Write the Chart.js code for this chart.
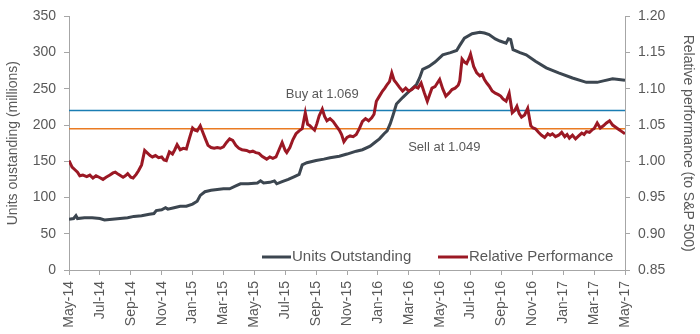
<!DOCTYPE html>
<html>
<head>
<meta charset="utf-8">
<script src="https://cdn.jsdelivr.net/npm/chart.js@4/dist/chart.umd.min.js"></script>
<style>
  html, body { margin: 0; padding: 0; background: #fff; }
</style>
</head>
<body>
<canvas id="myChart" width="700" height="334"></canvas>
<script>
// x values are months since May-14
const monthLabels = ["May-14", "Jul-14", "Sep-14", "Nov-14", "Jan-15", "Mar-15", "May-15", "Jul-15", "Sep-15", "Nov-15",
  "Jan-16", "Mar-16", "May-16", "Jul-16", "Sep-16", "Nov-16", "Jan-17", "Mar-17", "May-17"];

const unitsX = [0, 0.3, 0.45, 0.55, 1, 1.5, 2, 2.3, 2.8, 3.3, 3.8, 4.2, 4.7, 5.2, 5.5, 5.65, 6, 6.25, 6.4, 6.8, 7.2, 7.6,
  8, 8.3, 8.5, 8.8, 9.2, 9.6, 10, 10.4, 10.8, 11.1, 11.6, 12.2, 12.4, 12.6, 13, 13.3, 13.45, 13.8, 14.2, 14.6, 14.9,
  15.1, 15.4, 16, 16.5, 16.9, 17.5, 18, 18.3, 18.6, 19, 19.5, 19.8, 20.1, 20.4, 20.6, 20.8, 21, 21.2, 21.6, 21.9,
  22.2, 22.5, 22.7, 22.9, 23.3, 23.7, 24.2, 24.7, 25.1, 25.3, 25.6, 26.1, 26.6, 26.9, 27.2, 27.6, 27.9, 28.3, 28.45,
  28.6, 28.75, 29.2, 29.6, 30.2, 30.9, 31.7, 32.6, 33.5, 34.2, 34.6, 35.2, 35.6, 36];
const unitsOutstanding = [70, 71, 75, 71, 72, 72, 71, 69, 70, 71, 72, 74, 75, 77, 78, 82, 83, 86, 84, 86, 88, 88,
  91, 95, 103, 108, 110, 111, 112, 112, 116, 119, 119, 120, 123, 120, 121, 123, 119, 122, 125, 129, 132,
  145, 148, 151, 153, 155, 157, 160, 162, 164, 166, 171, 176, 181, 188, 192, 202, 215, 229, 238, 244,
  250, 256, 265, 277, 281, 287, 297, 300, 303, 310, 320, 326, 328, 327, 325, 319, 316, 313, 319,
  318, 304, 300, 297, 288, 279, 272, 265, 259, 259, 261, 264, 263, 262];

const perfX = [0, 0.2, 0.4, 0.55, 0.7, 0.9, 1.15, 1.35, 1.55, 1.75, 1.95, 2.2, 2.4, 2.65, 2.85, 3, 3.2, 3.5, 3.65, 3.8,
  4, 4.15, 4.35, 4.5, 4.7, 4.9, 5.1, 5.25, 5.4, 5.6, 5.8, 6, 6.15, 6.3, 6.5, 6.7, 6.85, 7, 7.2, 7.4, 7.6, 7.8,
  8, 8.15, 8.3, 8.5, 8.7, 8.85, 9, 9.2, 9.4, 9.6, 9.8, 10, 10.2, 10.4, 10.6, 10.8, 11, 11.2, 11.5, 11.7, 11.9,
  12.1, 12.3, 12.5, 12.8, 13, 13.2, 13.4, 13.6, 13.8, 14, 14.1, 14.3, 14.5, 14.7, 14.9, 15.1, 15.3, 15.45, 15.6,
  15.75, 15.9, 16.05, 16.2, 16.4, 16.55, 16.7, 16.9, 17.1, 17.3, 17.5, 17.65, 17.8, 18, 18.2, 18.4, 18.6, 18.8,
  19, 19.2, 19.4, 19.6, 19.75, 19.9, 20.1, 20.3, 20.45, 20.6, 20.75, 20.9, 21.05, 21.2, 21.4, 21.6, 21.8, 22,
  22.2, 22.4, 22.6, 22.8, 23, 23.2, 23.35, 23.5, 23.7, 23.85, 24, 24.2, 24.4, 24.6, 24.8, 25, 25.2, 25.3, 25.45,
  25.6, 25.75, 25.9, 26, 26.2, 26.4, 26.6, 26.75, 26.9, 27.05, 27.2, 27.4, 27.6, 27.8, 27.95, 28.1, 28.3, 28.5,
  28.7, 28.85, 29, 29.15, 29.3, 29.5, 29.7, 29.9, 30.05, 30.2, 30.4, 30.6, 30.8, 31, 31.15, 31.3, 31.5, 31.7,
  31.9, 32.1, 32.25, 32.4, 32.6, 32.8, 33, 33.2, 33.35, 33.5, 33.7, 33.9, 34, 34.2, 34.4, 34.6, 34.8, 35, 35.2,
  35.4, 35.6, 35.8, 36];
const relativePerf = [1.001, 0.992, 0.988, 0.985, 0.980, 0.981, 0.979, 0.981, 0.977, 0.980, 0.978, 0.975, 0.978,
  0.981, 0.984, 0.985, 0.982, 0.978, 0.980, 0.983, 0.978, 0.977, 0.982, 0.987, 0.995, 1.015, 1.011, 1.008, 1.006,
  1.008, 1.005, 1.006, 1.002, 1.001, 1.013, 1.010, 1.016, 1.023, 1.016, 1.018, 1.017, 1.032,
  1.046, 1.043, 1.042, 1.049, 1.038, 1.030, 1.022, 1.019, 1.018, 1.019, 1.018, 1.020, 1.026, 1.031, 1.029, 1.022,
  1.018, 1.016, 1.015, 1.013, 1.014, 1.012, 1.011, 1.007, 1.003, 1.006, 1.004, 1.006, 1.016, 1.026, 1.015, 1.012,
  1.019, 1.030, 1.038, 1.042, 1.045, 1.067, 1.051, 1.049, 1.046, 1.043, 1.052, 1.063, 1.072, 1.062, 1.056, 1.059,
  1.055, 1.049, 1.043, 1.037, 1.027, 1.033, 1.035, 1.034, 1.037, 1.045, 1.055, 1.059, 1.056, 1.060, 1.065, 1.083,
  1.090, 1.097, 1.101, 1.106, 1.110, 1.122, 1.112, 1.108, 1.102, 1.097, 1.101, 1.097, 1.099, 1.103, 1.101, 1.108,
  1.095, 1.083, 1.092, 1.101, 1.103, 1.108, 1.113, 1.100, 1.090, 1.094, 1.099, 1.101, 1.105, 1.111, 1.141,
  1.137, 1.135, 1.142, 1.148, 1.131, 1.122, 1.118, 1.120, 1.113, 1.108, 1.104, 1.097, 1.094, 1.092, 1.090, 1.086,
  1.083, 1.094, 1.067, 1.070, 1.076, 1.066, 1.061, 1.064, 1.073, 1.049, 1.046, 1.045, 1.040, 1.036, 1.033, 1.038,
  1.036, 1.038, 1.034, 1.036, 1.040, 1.034, 1.037, 1.032, 1.036, 1.031, 1.035, 1.039, 1.037, 1.041, 1.040, 1.044,
  1.045, 1.053, 1.046, 1.049, 1.053, 1.056, 1.050, 1.047, 1.044, 1.041, 1.038];

const buyLevel = 1.07;
const sellLevel = 1.045;

const gray = "#3c4650";
const red = "#9b1824";
const textColor = "#595959";
const axisColor = "#a6a6a6";

function toPoints(xs, ys) {
  return xs.map((x, i) => ({ x: x, y: ys[i] }));
}

// labels for the buy / sell lines and the legend inside the plot
const annotations = {
  id: "annotations",
  afterDatasetsDraw(chart) {
    const ctx = chart.ctx;
    const xs = chart.scales.x;
    const yr = chart.scales.y1;
    const area = chart.chartArea;
    ctx.save();
    ctx.font = "13px 'Liberation Sans', Arial, sans-serif";
    ctx.fillStyle = textColor;
    ctx.textAlign = "center";
    ctx.textBaseline = "middle";
    ctx.fillText("Buy at 1.069", xs.getPixelForValue(16.4), yr.getPixelForValue(1.093));
    ctx.fillText("Sell at 1.049", xs.getPixelForValue(24.3), yr.getPixelForValue(1.019));

    // legend
    const ly = area.bottom - 13;
    ctx.font = "15px 'Liberation Sans', Arial, sans-serif";
    ctx.textAlign = "left";
    ctx.lineWidth = 3;
    ctx.strokeStyle = gray;
    ctx.beginPath();
    ctx.moveTo(262, ly);
    ctx.lineTo(291, ly);
    ctx.stroke();
    ctx.fillText("Units Outstanding", 292, ly);
    ctx.strokeStyle = red;
    ctx.beginPath();
    ctx.moveTo(438, ly);
    ctx.lineTo(468, ly);
    ctx.stroke();
    ctx.fillText("Relative Performance", 469, ly);
    ctx.restore();
  },
};

const tickFont = { family: "'Liberation Sans', Arial, sans-serif", size: 14 };

new Chart(document.getElementById("myChart"), {
  type: "line",
  data: {
    datasets: [
      {
        label: "Relative Performance",
        data: toPoints(perfX, relativePerf),
        yAxisID: "y1",
        borderColor: red,
        borderWidth: 3,
        pointRadius: 0,
      },
      {
        label: "Units Outstanding",
        data: toPoints(unitsX, unitsOutstanding),
        yAxisID: "y",
        borderColor: gray,
        borderWidth: 3,
        pointRadius: 0,
      },
      {
        label: "Buy",
        data: [{ x: 0, y: buyLevel }, { x: 36, y: buyLevel }],
        yAxisID: "y1",
        borderColor: "#1a7db3",
        borderWidth: 1.5,
        pointRadius: 0,
      },
      {
        label: "Sell",
        data: [{ x: 0, y: sellLevel }, { x: 36, y: sellLevel }],
        yAxisID: "y1",
        borderColor: "#ea7b22",
        borderWidth: 1.5,
        pointRadius: 0,
      },
    ],
  },
  options: {
    responsive: false,
    animation: false,
    layout: { padding: { top: 9, left: 5, right: 0, bottom: 0 } },
    plugins: {
      legend: { display: false },
      tooltip: { enabled: false },
    },
    scales: {
      x: {
        type: "linear",
        min: 0,
        max: 36,
        afterFit: (s) => { s.height = 64; },
        ticks: {
          stepSize: 2,
          autoSkip: false,
          minRotation: 90,
          maxRotation: 90,
          color: textColor,
          font: tickFont,
          padding: 6,
          callback: (v) => monthLabels[v / 2],
        },
        grid: { drawOnChartArea: false, tickLength: 5, color: axisColor },
        border: { color: axisColor },
      },
      y: {
        position: "left",
        min: 0,
        max: 350,
        afterFit: (s) => { s.width = 64; },
        ticks: { stepSize: 50, color: textColor, font: tickFont, padding: 8 },
        grid: { drawOnChartArea: false, tickLength: 5, color: axisColor },
        border: { color: axisColor },
        title: {
          display: true,
          text: "Units oustanding (millions)",
          color: textColor,
          font: tickFont,
          padding: { top: 0, bottom: 4 },
        },
      },
      y1: {
        position: "right",
        min: 0.85,
        max: 1.2,
        afterFit: (s) => { s.width = 75; },
        ticks: {
          stepSize: 0.05,
          color: textColor,
          font: tickFont,
          padding: 8,
          callback: (v) => v.toFixed(2),
        },
        grid: { drawOnChartArea: false, tickLength: 5, color: axisColor },
        border: { color: axisColor },
        title: {
          display: true,
          text: "Relative performance (to S&P 500)",
          color: textColor,
          font: tickFont,
          padding: { top: 4, bottom: 0 },
        },
      },
    },
  },
  plugins: [annotations],
});
</script>
</body>
</html>
